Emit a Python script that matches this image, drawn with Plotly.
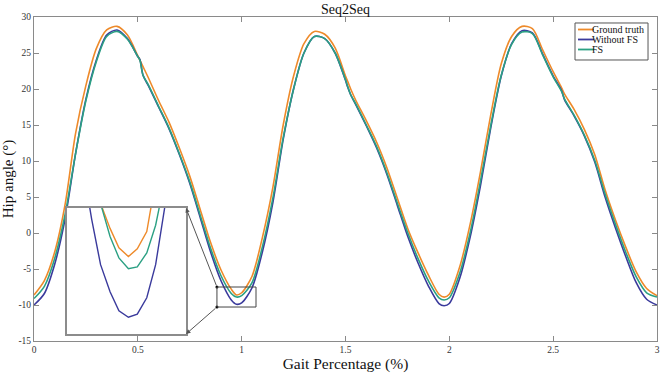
import plotly.graph_objects as go

# ---------------- data ----------------
gait_x = [0.00, 0.05, 0.10, 0.15, 0.20, 0.25, 0.30, 0.35, 0.40, 0.45, 0.50, 0.51, 0.525, 0.55,
          0.60, 0.65, 0.70, 0.75, 0.80, 0.85, 0.90, 0.95, 0.975, 1.00, 1.05, 1.10, 1.15, 1.20,
          1.25, 1.30, 1.35, 1.40, 1.45, 1.50, 1.51, 1.525, 1.55, 1.60, 1.65, 1.70, 1.75, 1.80,
          1.85, 1.90, 1.95, 1.975, 2.00, 2.05, 2.10, 2.15, 2.20, 2.25, 2.30, 2.35, 2.40, 2.45,
          2.50, 2.54, 2.555, 2.60, 2.65, 2.70, 2.75, 2.80, 2.85, 2.90, 2.95, 3.00]

ground_truth = [-8.6, -6.6, -2.6, 4.0, 13.8, 20.5, 25.6, 28.2, 28.7, 27.5, 24.6, 24.0, 23.1, 21.6,
                18.4, 15.4, 11.8, 7.9, 3.3, -1.3, -5.1, -7.8, -8.6, -8.3, -6.0, -0.6, 6.3, 15.0,
                21.8, 26.3, 28.0, 27.6, 25.7, 21.8, 21.1, 20.0, 18.4, 15.6, 12.6, 9.0, 4.8, 0.6,
                -2.8, -5.9, -8.5, -8.9, -8.5, -4.7, 1.2, 8.5, 16.5, 23.5, 27.3, 28.7, 28.4, 25.4,
                22.4, 20.2, 19.3, 17.2, 14.4, 10.9, 6.0, 1.8, -2.0, -5.4, -7.7, -8.7]

without_fs = [-10.0, -8.4, -4.3, 2.0, 11.0, 18.6, 24.0, 27.5, 28.2, 27.0, 24.5, 24.1, 21.9, 20.5,
              17.5, 14.5, 10.9, 6.9, 2.2, -2.6, -6.6, -9.3, -9.9, -9.7, -7.6, -2.6, 4.2, 13.0,
              20.0, 25.0, 27.3, 27.0, 25.0, 21.2, 20.3, 19.2, 17.8, 14.9, 11.8, 8.1, 3.8, -0.5,
              -4.2, -7.4, -9.8, -10.1, -9.8, -6.3, -0.6, 6.6, 14.7, 21.8, 26.3, 28.1, 27.8, 24.8,
              21.8, 19.8, 18.5, 16.3, 13.5, 9.9, 5.0, 0.7, -3.3, -6.9, -9.2, -10.0]

fs = [-9.1, -7.4, -3.5, 2.6, 11.0, 18.4, 23.8, 27.3, 28.0, 26.9, 24.5, 24.0, 21.9, 20.6,
      17.6, 14.6, 11.0, 7.1, 2.5, -2.1, -5.9, -8.4, -8.9, -8.7, -6.9, -1.9, 4.8, 13.2,
      20.0, 25.0, 27.3, 27.0, 25.0, 21.3, 20.4, 19.2, 17.9, 15.0, 12.0, 8.3, 4.1, 0.0,
      -3.6, -6.7, -9.0, -9.3, -9.0, -5.6, 0.0, 7.2, 15.0, 21.9, 26.2, 27.9, 27.7, 24.7,
      21.7, 19.7, 18.6, 16.4, 13.6, 10.1, 5.4, 1.2, -2.7, -6.1, -8.3, -8.9]

# zoomed-in trough (inset)
inset_x = [0.905, 0.920, 0.934, 0.949, 0.963, 0.978, 0.992, 1.007, 1.021, 1.036, 1.050]
inset_gt = [-5.8, -6.8, -7.4, -7.95, -8.38, -8.57, -8.40, -8.02, -6.9, -5.6, -4.2]
inset_wo = [-6.5, -7.75, -8.75, -9.35, -9.77, -9.91, -9.84, -9.48, -8.75, -7.4, -6.2]
inset_fs = [-5.9, -6.8, -7.4, -8.13, -8.60, -8.84, -8.80, -8.49, -7.88, -7.0, -5.9]

zoom_x = [0.881, 1.069]
zoom_y = [-10.28, -7.5]
inset_corner_x = 0.732
inset_corner_y = [3.47, -14.03]

x_ticks = [0, 0.5, 1, 1.5, 2, 2.5, 3]
x_tick_labels = ["0", "0.5", "1", "1.5", "2", "2.5", "3"]
y_ticks = [-15, -10, -5, 0, 5, 10, 15, 20, 25, 30]
y_tick_labels = ["-15", "-10", "-5", "0", "5", "10", "15", "20", "25", "30"]

series_names = ["Ground truth", "Without FS", "FS"]
colors = ["#EE8A2A", "#3A3A9C", "#2BA083"]

# ---------------- figure ----------------
FONT = '"Liberation Serif", "Times New Roman", serif'
fig = go.Figure()

for name, ys, col in zip(series_names, [ground_truth, without_fs, fs], colors):
    fig.add_trace(go.Scatter(x=gait_x, y=ys, mode="lines", name=name, showlegend=False,
                             line=dict(color=col, width=1.6, shape="spline", smoothing=0.8),
                             xaxis="x", yaxis="y"))

for ys, col in zip([inset_gt, inset_wo, inset_fs], colors):
    fig.add_trace(go.Scatter(x=inset_x, y=ys, mode="lines", showlegend=False,
                             line=dict(color=col, width=1.4),
                             xaxis="x2", yaxis="y2"))

# corner dots of zoom rectangle
fig.add_trace(go.Scatter(x=[zoom_x[0], zoom_x[0]], y=[zoom_y[1], zoom_y[0]], mode="markers",
                         marker=dict(color="black", size=3), showlegend=False,
                         xaxis="x", yaxis="y"))

fig.add_shape(type="rect", xref="x", yref="y", x0=zoom_x[0], x1=zoom_x[1],
              y0=zoom_y[0], y1=zoom_y[1], line=dict(color="#444444", width=1))

for ty, hy in zip([zoom_y[1], zoom_y[0]], inset_corner_y):
    fig.add_annotation(x=inset_corner_x, y=hy, xref="x", yref="y",
                       ax=zoom_x[0], ay=ty, axref="x", ayref="y",
                       showarrow=True, arrowhead=2, arrowsize=0.9, arrowwidth=1,
                       arrowcolor="#555555", text="")

# ---- legend (drawn box, line samples and labels) ----
leg_x0, leg_x1, leg_y0, leg_y1 = 0.8684, 0.9856, 0.8673, 0.9815
row_y = [0.9614, 0.9306, 0.8997]
fig.add_shape(type="rect", xref="paper", yref="paper", x0=leg_x0, x1=leg_x1, y0=leg_y0, y1=leg_y1,
              line=dict(color="#555555", width=1), fillcolor="white", layer="above")
for name, col, ry in zip(series_names, colors, row_y):
    fig.add_shape(type="line", xref="paper", yref="paper", x0=0.8732, x1=0.8989, y0=ry, y1=ry,
                  line=dict(color=col, width=1.8), layer="above")
    fig.add_annotation(x=0.8989, y=ry, xref="paper", yref="paper", text=name, showarrow=False,
                       xanchor="left", yanchor="middle", xshift=-3, borderpad=0,
                       font=dict(family=FONT, size=10, color="#111111"))

axis_common = dict(showgrid=False, zeroline=False, showline=True, mirror="ticks",
                   linecolor="#8a8a8a", linewidth=1, ticks="inside", ticklen=5, automargin=False,
                   tickcolor="#8a8a8a", tickfont=dict(family=FONT, size=9.5, color="#333333"))

fig.update_layout(
    width=660, height=377,
    margin=dict(l=34, r=3, t=17, b=36),
    paper_bgcolor="white", plot_bgcolor="white",
    title=dict(text="Seq2Seq", xref="paper", x=0.5, xanchor="center", y=0.976, yanchor="middle",
               font=dict(family=FONT, size=14, color="#111111")),
    xaxis=dict(range=[0, 3], tickvals=x_ticks, ticktext=x_tick_labels,
               title=dict(text="Gait Percentage (%)", font=dict(family=FONT, size=15.5, color="#111111"),
                          standoff=2),
               **axis_common),
    yaxis=dict(range=[-15, 30], tickvals=y_ticks, ticktext=y_tick_labels,
               title=dict(text="Hip angle (°)", font=dict(family=FONT, size=15, color="#111111"),
                          standoff=2),
               **axis_common),
    xaxis2=dict(domain=[0.053, 0.244], anchor="y2", range=zoom_x, showgrid=False,
                zeroline=False, showticklabels=False, ticks="", showline=True, mirror=True,
                linecolor="#8c8c8c", linewidth=1.5),
    yaxis2=dict(domain=[0.0216, 0.4105], anchor="x2", range=zoom_y, showgrid=False,
                zeroline=False, showticklabels=False, ticks="", showline=True, mirror=True,
                linecolor="#8c8c8c", linewidth=1.5),
    showlegend=False,
)

fig.write_html("out.html", config={"displayModeBar": False},
               post_script="document.body.style.margin='0';document.body.style.overflow='hidden';")
